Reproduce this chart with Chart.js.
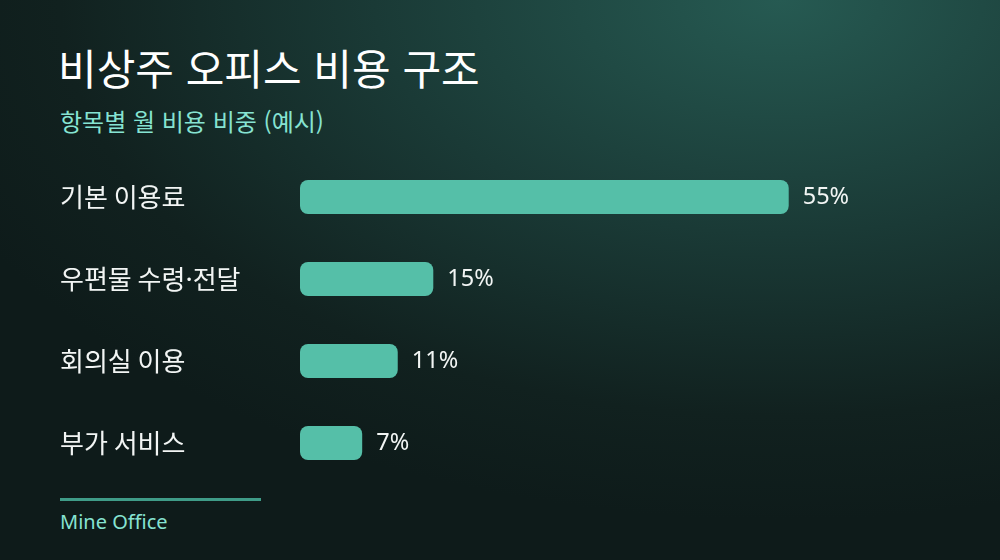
<!DOCTYPE html>
<html lang="ko">
<head>
<meta charset="utf-8">
<script src="https://cdn.jsdelivr.net/npm/chart.js@4"></script>
<style>
  html, body { margin: 0; padding: 0; }
  body {
    width: 1000px; height: 560px; overflow: hidden; position: relative;
    font-family: "Noto Sans", "Noto Sans CJK KR", sans-serif;
    background: radial-gradient(ellipse 900px 520px at 780px 0px, #265a52 0%, #1a3a36 45%, #11211f 80%, #0e1b1a 100%);
  }
  #title { position: absolute; left: 58px; top: 42px; margin: 0; font-size: 42px; font-weight: 400; color: #ffffff; font-family: "Noto Sans CJK KR", sans-serif; line-height: 1.2; }
  #subtitle { position: absolute; left: 60px; top: 107px; margin: 0; font-size: 24px; color: #86e3d2; font-family: "Noto Sans CJK KR", sans-serif; line-height: 1.2; }
  #rule { position: absolute; left: 60px; top: 498px; width: 201px; height: 3px; background: #3f9c88; }
  #footer { position: absolute; left: 60px; top: 508px; font-size: 20px; color: #86e3d2; }
  canvas { position: absolute; left: 0; top: 0; }
</style>
</head>
<body>
<h1 id="title">비상주 오피스 비용 구조</h1>
<div id="subtitle">항목별 월 비용 비중 (예시)</div>
<div id="rule"></div>
<div id="footer">Mine Office</div>
<canvas id="chart" width="1000" height="560"></canvas>
<script>
// Data
const categories = ["기본 이용료", "우편물 수령·전달", "회의실 이용", "부가 서비스"];
const shares = [55, 15, 11, 7];

const barColor = "#55bfa8";
const textColor = "#f2f5f4";

// value labels next to each bar
const valueLabels = {
  id: "valueLabels",
  afterDatasetsDraw(chart) {
    const ctx = chart.ctx;
    const meta = chart.getDatasetMeta(0);
    ctx.save();
    ctx.font = '23.5px "Noto Sans", "Noto Sans CJK KR", sans-serif';
    ctx.fillStyle = textColor;
    ctx.textBaseline = "middle";
    ctx.textAlign = "left";
    meta.data.forEach((bar, i) => {
      ctx.fillText(shares[i] + "%", bar.x + 14, bar.y);
    });
    ctx.restore();
  }
};

new Chart(document.getElementById("chart"), {
  type: "bar",
  data: {
    labels: categories,
    datasets: [{
      data: shares,
      backgroundColor: barColor,
      borderRadius: 8,
      borderSkipped: false,
      categoryPercentage: 1,
      barPercentage: 0.415
    }]
  },
  options: {
    indexAxis: "y",
    responsive: false,
    animation: false,
    layout: { padding: { left: 60, top: 156, bottom: 76, right: 78 } },
    plugins: { legend: { display: false }, tooltip: { enabled: false } },
    scales: {
      x: { display: false, min: 0, max: 70 },
      y: {
        grid: { display: false },
        border: { display: false },
        ticks: {
          color: textColor,
          crossAlign: "far",
          padding: 0,
          font: { family: '"Noto Sans CJK KR", sans-serif', size: 26 }
        },
        afterFit(scale) { scale.width = 240; }
      }
    }
  },
  plugins: [valueLabels]
});
</script>
</body>
</html>
